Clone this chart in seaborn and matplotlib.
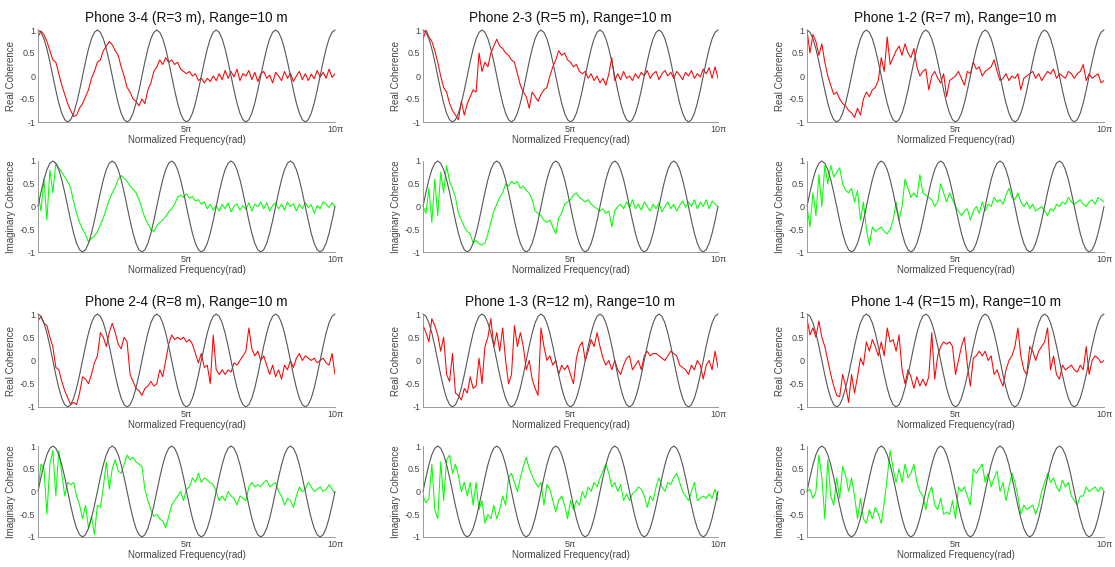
"""Coherencia real / imaginaria entre pares de teléfonos frente a la curva teórica."""

import matplotlib

matplotlib.use("Agg")
import matplotlib.pyplot as plt
import numpy as np
import seaborn as sns

sns.set_theme(style="white")
plt.rcParams["font.family"] = ["Liberation Sans", "DejaVu Sans"]

# ---------------------------------------------------------------- datos
TITLES = [
    "Phone 3-4 (R=3 m), Range=10 m",
    "Phone 2-3 (R=5 m), Range=10 m",
    "Phone 1-2 (R=7 m), Range=10 m",
    "Phone 2-4 (R=8 m), Range=10 m",
    "Phone 1-3 (R=12 m), Range=10 m",
    "Phone 1-4 (R=15 m), Range=10 m",
]
X_TICK_LABELS = ["5\u03c0", "10\u03c0"]
Y_TICKS = [-1, -0.5, 0, 0.5, 1]
Y_TICK_LABELS = ["-1", "-0.5", "0", "0.5", "1"]
REAL_LABEL = "Real Coherence"
IMAG_LABEL = "Imaginary Coherence"
X_LABEL = "Normalized Frequency(rad)"

# curva teórica: un periodo (20 muestras), repetido 5 veces
COS_PERIOD = [1, 0.95, 0.81, 0.59, 0.31, 0, -0.31, -0.59, -0.81, -0.95,
              -1, -0.95, -0.81, -0.59, -0.31, 0, 0.31, 0.59, 0.81, 0.95]
SIN_PERIOD = [0, 0.31, 0.59, 0.81, 0.95, 1, 0.95, 0.81, 0.59, 0.31,
              0, -0.31, -0.59, -0.81, -0.95, -1, -0.95, -0.81, -0.59, -0.31]
N_PERIODS = 5

real_34 = [0.85, 0.98, 0.9, 0.75, 0.55, 0.35, 0.3, 0.05, -0.2, -0.4,
           -0.6, -0.75, -0.88, -0.85, -0.7, -0.6, -0.45, -0.3, -0.05, 0.1,
           0.3, 0.35, 0.55, 0.65, 0.75, 0.68, 0.55, 0.45, 0.2, 0.0,
           -0.25, -0.35, -0.5, -0.55, -0.65, -0.5, -0.6, -0.3, -0.15, 0.1,
           0.2, 0.35, 0.25, 0.4, 0.3, 0.35, 0.25, 0.3, 0.15, 0.1,
           0.05, 0.1, 0.0, 0.05, -0.1, -0.05, -0.15, -0.05, -0.12, 0.0,
           -0.1, 0.05, -0.08, 0.12, -0.05, 0.1, -0.02, 0.15, -0.1, 0.05,
           0.0, 0.12, -0.08, 0.08, -0.12, 0.05, 0.1, -0.05, 0.02, -0.15,
           0.08, 0.0, -0.1, 0.1, -0.05, 0.06, -0.12, 0.0, 0.1, -0.08,
           0.05, -0.1, 0.04, -0.06, 0.12, -0.02, 0.08, -0.05, 0.15, -0.03,
           0.05]
imag_34 = [0.3, -0.1, 0.6, -0.3, 0.8, 0.3, 0.95, 0.85, 0.75, 0.65,
           0.55, 0.4, 0.1, -0.15, -0.35, -0.5, -0.62, -0.78, -0.7, -0.65,
           -0.55, -0.4, -0.25, -0.05, 0.15, 0.3, 0.42, 0.6, 0.68, 0.62,
           0.55, 0.45, 0.38, 0.3, 0.15, -0.05, -0.25, -0.38, -0.5, -0.55,
           -0.42, -0.35, -0.3, -0.22, -0.12, -0.05, 0.05, 0.2, 0.25, 0.2,
           0.28, 0.18, 0.22, 0.12, 0.15, 0.05, 0.1, -0.05, 0.05, -0.08,
           0.02, -0.1, 0.05, -0.05, 0.08, -0.12, 0.0, 0.06, -0.08, 0.02,
           -0.06, 0.08, -0.1, 0.05, 0.0, 0.1, -0.05, 0.08, -0.1, 0.02,
           0.08, -0.05, 0.05, -0.08, 0.1, 0.0, 0.06, -0.1, 0.05, -0.05,
           0.08, -0.02, 0.04, -0.15, 0.02, -0.05, 0.1, 0.05, -0.02, 0.08,
           0.0]
real_23 = [0.8, 1.0, 0.85, 0.75, 0.55, 0.3, 0.0, -0.25, -0.35, -0.6,
           -0.75, -0.85, -0.95, -0.55, -0.85, -0.6, -0.45, -0.3, -0.35, 0.5,
           0.1, 0.3, 0.2, 0.5, 0.65, 0.8, 0.65, 0.6, 0.5, 0.45,
           0.35, 0.3, 0.05, -0.2, -0.35, -0.45, -0.7, -0.35, -0.45, -0.55,
           -0.4, -0.3, -0.25, 0.0, 0.2, 0.35, 0.55, 0.45, 0.5, 0.35,
           0.3, 0.2, 0.25, 0.1, 0.05, 0.1, -0.05, 0.05, -0.1, 0.0,
           -0.15, -0.05, -0.2, 0.05, 0.4, -0.1, 0.05, -0.08, 0.1, -0.05,
           0.0, -0.1, 0.05, -0.05, 0.08, 0.0, 0.12, -0.05, 0.05, 0.1,
           -0.08, 0.05, 0.12, 0.0, 0.08, -0.05, 0.1, 0.02, -0.08, 0.08,
           0.0, 0.12, -0.05, 0.05, -0.02, 0.15, 0.05, 0.18, -0.05, 0.2,
           -0.05]
imag_23 = [0.0, -0.15, 0.4, -0.35, 0.6, -0.2, 0.75, 0.3, 0.9, 0.55,
           0.4, 0.2, -0.15, -0.3, -0.45, -0.55, -0.6, -0.8, -0.75, -0.82,
           -0.85, -0.8, -0.6, -0.35, -0.1, 0.05, 0.2, 0.3, 0.5, 0.45,
           0.55, 0.5, 0.55, 0.4, 0.45, 0.35, 0.3, 0.15, -0.1, -0.15,
           -0.2, -0.3, -0.35, -0.3, -0.45, -0.6, -0.25, -0.15, 0.05, 0.1,
           0.15, 0.25, 0.3, 0.2, 0.15, 0.1, 0.15, 0.05, 0.0, -0.05,
           -0.1, -0.05, -0.15, -0.1, -0.45, -0.1, 0.0, 0.05, -0.05, 0.1,
           -0.02, 0.15, -0.05, 0.05, -0.08, 0.1, 0.0, -0.1, 0.05, -0.05,
           0.08, -0.12, 0.0, 0.1, -0.05, 0.05, -0.1, 0.02, 0.12, -0.02,
           0.1, 0.0, 0.15, -0.05, 0.1, 0.0, 0.15, -0.05, 0.12, 0.05,
           0.0]
real_12 = [1.0, 0.5, 0.9, 0.75, 0.45, 0.7, 0.3, 0.0, -0.2, -0.4,
           -0.35, -0.5, -0.6, -0.65, -0.75, -0.8, -0.9, -0.7, -0.85, -0.5,
           -0.35, -0.45, -0.3, -0.25, -0.1, 0.4, 0.1, 0.85, 0.25, 0.4,
           0.55, 0.65, 0.45, 0.7, 0.5, 0.4, 0.6, 0.2, 0.0, 0.1,
           0.15, -0.3, 0.0, 0.1, -0.05, -0.15, 0.05, -0.45, -0.1, -0.05,
           0.0, 0.1, -0.05, -0.2, 0.1, 0.05, 0.3, 0.15, 0.2, 0.0,
           0.1, 0.15, 0.2, 0.35, 0.1, -0.1, -0.05, 0.05, -0.1, 0.0,
           -0.05, 0.05, -0.3, -0.05, 0.0, 0.05, 0.1, -0.05, 0.05, -0.1,
           0.0, 0.1, 0.05, 0.15, -0.05, 0.05, 0.0, -0.05, 0.1, 0.05,
           -0.05, 0.05, 0.1, 0.25, -0.1, 0.05, -0.05, 0.0, 0.05, -0.15,
           -0.1]
imag_12 = [0.0, -0.45, 0.3, -0.2, 0.7, 0.0, 0.9, 0.5, 0.9, 0.65,
           0.75, 0.85, 0.5, 0.35, 0.3, 0.4, 0.1, 0.35, -0.3, 0.1,
           -0.5, -0.85, -0.45, -0.55, -0.5, -0.45, -0.55, -0.6, -0.5, -0.3,
           0.1, -0.3, 0.0, 0.6, 0.4, 0.2, 0.3, 0.2, 0.7, 0.3,
           0.25, 0.2, 0.15, 0.0, 0.1, 0.5, 0.3, 0.1, 0.3, 0.15,
           0.0, -0.1, -0.2, -0.1, -0.05, -0.3, -0.1, 0.0, -0.15, 0.1,
           -0.1, 0.05, 0.0, 0.2, 0.1, 0.15, 0.05, 0.25, 0.4, 0.2,
           0.15, 0.3, 0.1, 0.0, 0.1, -0.05, 0.05, -0.1, -0.05, 0.0,
           -0.1, -0.2, -0.05, -0.1, 0.05, 0.0, 0.1, 0.05, 0.2, 0.1,
           0.05, 0.1, 0.15, 0.05, 0.0, 0.1, 0.15, 0.05, 0.2, 0.15,
           0.1]
real_24 = [0.85, 0.95, 0.8, 0.75, 0.5, 0.3, -0.15, -0.2, -0.45, -0.65,
           -0.8, -0.95, -0.9, -0.95, -0.7, -0.35, -0.4, -0.5, -0.3, -0.05,
           0.1, 0.6, 0.5, 0.3, 0.6, 0.8, 0.6, 0.35, 0.25, 0.5,
           0.4, -0.3, -0.45, -0.6, -0.65, -0.75, -0.6, -0.55, -0.45, -0.55,
           -0.5, -0.2, -0.35, 0.0, 0.35, 0.55, 0.45, 0.5, 0.45, 0.5,
           0.4, 0.45, 0.35, 0.15, -0.05, 0.15, -0.15, -0.1, -0.5, 0.55,
           -0.2, -0.3, -0.2, -0.3, -0.2, -0.25, -0.05, -0.1, 0.0, 0.1,
           0.2, 0.7, 0.25, 0.1, 0.2, 0.0, 0.1, -0.1, -0.3, -0.1,
           -0.35, -0.2, -0.4, -0.1, -0.2, 0.0, -0.15, 0.05, 0.15, 0.0,
           0.1, 0.05, 0.0, 0.05, -0.05, 0.0, 0.05, -0.05, -0.1, 0.15,
           -0.3]
imag_24 = [0.0, 0.6, 0.5, -0.5, 0.6, 0.9, -0.1, 0.9, 0.4, -0.1,
           0.2, 0.15, 0.2, -0.1, -0.3, -0.6, -0.3, -0.8, -0.55, -0.95,
           -0.3, -0.35, 0.1, 0.65, 0.05, 0.5, 0.7, 0.45, 0.4, 0.6,
           0.8, 0.7, 0.75, 0.65, 0.6, 0.55, 0.05, -0.2, -0.4, -0.55,
           -0.5, -0.6, -0.65, -0.8, -0.55, -0.3, -0.2, -0.1, 0.0, -0.2,
           0.05, 0.1, 0.3, 0.2, 0.4, 0.2, 0.3, 0.25, 0.2, 0.15,
           0.0, -0.2, -0.1, -0.2, 0.0, -0.1, -0.15, -0.3, -0.1, -0.15,
           -0.2, 0.1, 0.2, 0.1, 0.15, 0.1, 0.2, 0.25, 0.1, 0.15,
           0.2, 0.0, -0.1, -0.3, -0.15, -0.2, -0.35, -0.1, 0.1, 0.0,
           0.05, 0.2, 0.1, 0.0, 0.05, 0.1, 0.0, 0.05, 0.15, 0.05,
           -0.05]
real_13 = [0.75, 0.6, 0.4, 0.9, 0.75, 0.55, 0.2, 0.5, -0.3, -0.45,
           0.15, -0.7, -0.75, -0.85, -0.6, -0.7, -0.35, -0.6, -0.55, 0.05,
           -0.5, 0.3, 0.5, 0.9, 0.3, 0.6, 0.2, 0.7, 0.0, -0.5,
           -0.3, 0.75, 0.3, 0.6, 0.3, -0.2, 0.0, -0.4, -0.6, -0.75,
           0.7, 0.3, 0.0, 0.1, -0.1, 0.0, -0.3, -0.1, -0.2, -0.1,
           -0.3, -0.5, 0.05, 0.3, 0.4, 0.0, 0.2, 0.45, 0.3, 0.6,
           0.3, 0.05, -0.1, 0.0, -0.2, 0.0, -0.2, -0.3, -0.1, 0.05,
           0.1, -0.2, -0.1, 0.0, -0.2, 0.1, 0.2, 0.1, 0.15, 0.15,
           0.1, 0.05, 0.0, 0.1, 0.2, 0.15, 0.1, -0.1, -0.15, -0.2,
           -0.3, -0.1, -0.2, 0.0, -0.1, -0.4, -0.1, 0.0, -0.2, 0.2,
           -0.15]
imag_13 = [-0.1, -0.25, -0.15, 0.6, -0.4, -0.6, 0.65, -0.2, 0.7, 0.8,
           0.4, 0.6, 0.35, 0.0, 0.2, -0.1, 0.2, -0.3, 0.2, -0.4,
           -0.2, -0.7, -0.5, -0.6, -0.3, -0.6, -0.4, -0.1, -0.3, 0.3,
           0.4, 0.2, 0.0, 0.3, 0.55, 0.75, 0.5, 0.35, 0.2, 0.1,
           0.2, -0.3, 0.15, 0.05, -0.2, -0.45, -0.2, -0.1, -0.3, -0.6,
           -0.2, -0.4, -0.2, -0.3, 0.0, -0.15, 0.1, 0.0, 0.2, 0.1,
           0.3, 0.45, 0.6, 0.4, 0.1, 0.2, 0.0, 0.15, -0.2, -0.05,
           -0.2, -0.05, 0.0, 0.1, 0.05, -0.1, -0.35, -0.1, -0.2, 0.1,
           0.3, 0.1, 0.0, 0.2, 0.15, 0.3, 0.4, 0.2, 0.0, -0.1,
           -0.2, 0.0, 0.2, -0.2, -0.15, -0.1, -0.15, -0.05, -0.15, 0.05,
           -0.2]
real_14 = [0.9, 0.55, 0.7, 0.5, 0.85, 0.5, 0.3, 0.0, -0.3, -0.55,
           -0.75, -0.78, -0.3, -0.55, -0.9, -0.3, -0.7, -0.35, 0.05, -0.1,
           0.4, 0.2, 0.45, 0.3, 0.1, 0.4, 0.1, 0.7, 0.4, 0.45,
           0.2, 0.55, -0.2, -0.5, -0.2, -0.35, -0.6, -0.35, -0.55, -0.4,
           -0.55, -0.35, 0.6, -0.4, 0.1, 0.3, 0.4, 0.35, 0.4, 0.3,
           -0.3, 0.0, 0.3, 0.5, -0.1, -0.55, 0.05, 0.1, 0.2, 0.1,
           0.2, 0.0, 0.1, -0.3, -0.2, -0.4, -0.55, -0.2, 0.0, 0.1,
           0.3, 0.7, 0.1, -0.2, -0.3, 0.3, 0.2, 0.0, 0.2, 0.3,
           0.4, 0.7, -0.2, 0.1, -0.3, -0.4, -0.1, -0.2, -0.15, -0.1,
           -0.2, -0.25, -0.1, -0.2, 0.3, -0.3, 0.0, 0.1, 0.05, -0.05,
           0.0]
imag_14 = [0.0, 0.05, -0.15, 0.0, 0.8, 0.3, -0.6, 0.7, -0.1, -0.3,
           0.3, -0.15, 0.55, 0.35, 0.0, 0.3, -0.1, -0.6, -0.15, -0.6,
           -0.7, -0.4, -0.6, -0.35, -0.5, -0.7, -0.25, 0.3, 0.9, 0.5,
           0.2, 0.5, 0.2, 0.6, 0.3, 0.4, 0.6, 0.2, 0.0, -0.1,
           -0.4, -0.05, 0.1, -0.3, -0.4, -0.15, -0.5, -0.45, -0.5, -0.2,
           -0.6, 0.1, 0.0, 0.1, -0.1, -0.3, 0.5, 0.4, 0.5, 0.6,
           0.2, 0.4, 0.1, 0.3, 0.45, 0.0, 0.2, -0.2, 0.1, 0.4,
           0.2, -0.1, -0.5, -0.3, -0.4, -0.35, -0.3, -0.5, -0.3, 0.0,
           0.2, 0.4, 0.2, 0.3, 0.1, 0.0, 0.25, 0.1, 0.2, -0.1,
           -0.2, -0.3, -0.1, -0.1, 0.1, 0.0, 0.05, 0.1, 0.0, 0.1,
           0.0]

REAL_SERIES = [real_34, real_23, real_12, real_24, real_13, real_14]
IMAG_SERIES = [imag_34, imag_23, imag_12, imag_24, imag_13, imag_14]

# ---------------------------------------------------------------- maquetación
W, H = 1115, 567
COLS_PX = [(38, 335), (423, 718), (807, 1104)]
ROWS_PX = [(30, 122), (161, 252), (314, 407), (446, 537)]
TEXT_GREY = "#444444"
REF_COLOR = "#555555"


def px_axes(fig, col, row):
    left, right = COLS_PX[col]
    top, bottom = ROWS_PX[row]
    return fig.add_axes([left / W, 1 - bottom / H, (right - left) / W, (bottom - top) / H])


def style_axes(ax, ylabel):
    ax.set_xlim(0, 10 * np.pi)
    ax.set_ylim(-1, 1)
    ax.set_xticks([5 * np.pi, 10 * np.pi], X_TICK_LABELS)
    ax.set_yticks(Y_TICKS, Y_TICK_LABELS)
    ax.tick_params(direction="in", length=2, width=0.5, pad=2, labelsize=6.5,
                   colors=TEXT_GREY)
    for side in ("top", "right"):
        ax.spines[side].set_visible(False)
    for side in ("left", "bottom"):
        ax.spines[side].set_color("#888888")
        ax.spines[side].set_linewidth(0.6)
    ax.set_xlabel(X_LABEL, fontsize=7, color=TEXT_GREY, labelpad=1)
    ax.set_ylabel(ylabel, fontsize=7, color=TEXT_GREY, labelpad=3)
    ax.grid(False)


x = np.linspace(0, 10 * np.pi, len(real_34))
ref_real = COS_PERIOD * N_PERIODS + [COS_PERIOD[0]]
ref_imag = SIN_PERIOD * N_PERIODS + [SIN_PERIOD[0]]

fig = plt.figure(figsize=(W / 100, H / 100), dpi=100)
fig.patch.set_facecolor("white")

for i, title in enumerate(TITLES):
    col, pair_row = i % 3, i // 3
    ax_re = px_axes(fig, col, pair_row * 2)
    ax_im = px_axes(fig, col, pair_row * 2 + 1)

    sns.lineplot(x=x, y=REAL_SERIES[i], ax=ax_re, color="#ff0000", linewidth=0.75)
    sns.lineplot(x=x, y=ref_real, ax=ax_re, color=REF_COLOR, linewidth=0.8, clip_on=False)
    sns.lineplot(x=x, y=IMAG_SERIES[i], ax=ax_im, color="#00ff00", linewidth=0.75)
    sns.lineplot(x=x, y=ref_imag, ax=ax_im, color=REF_COLOR, linewidth=0.8, clip_on=False)

    style_axes(ax_re, REAL_LABEL)
    style_axes(ax_im, IMAG_LABEL)
    ax_re.set_title(title, fontsize=9.8, color="#111111", pad=6)

fig.savefig("out.png", dpi=100, facecolor="white")
